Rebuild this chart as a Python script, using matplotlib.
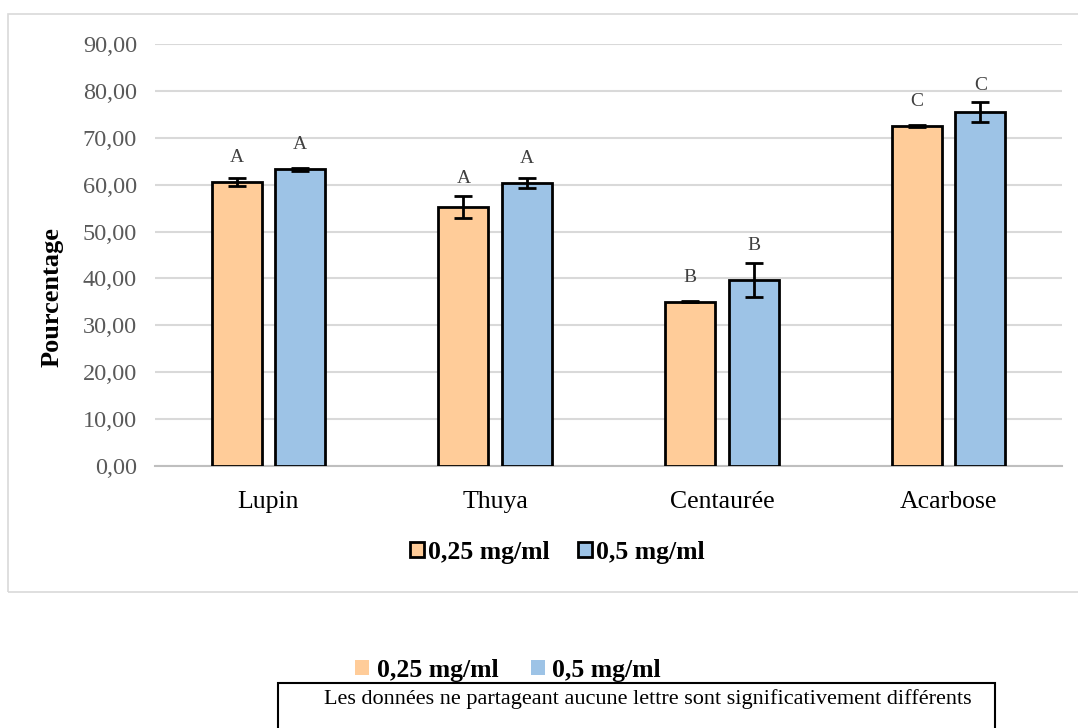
import numpy as np
import matplotlib
matplotlib.use("Agg")
import matplotlib.pyplot as plt
from matplotlib.patches import Patch, Rectangle

plt.rcParams['font.family'] = ['Liberation Serif', 'DejaVu Serif']

categories = ["Lupin", "Thuya", "Centaurée", "Acarbose"]
series_names = ["0,25 mg/ml", "0,5 mg/ml"]
vals_025 = [60.6, 55.2, 35.0, 72.5]
vals_05 = [63.3, 60.4, 39.7, 75.5]
err_025 = [0.8, 2.4, 0.1, 0.2]
err_05 = [0.3, 1.1, 3.7, 2.1]
letters_025 = ["A", "A", "B", "C"]
letters_05 = ["A", "A", "B", "C"]
yticks = np.arange(0, 100, 10)
note = "Les données ne partageant aucune lettre sont significativement différents"

c_orange = "#FFCC99"
c_blue = "#9DC3E6"

W, H = 1078, 728
fig = plt.figure(figsize=(W / 100, H / 100), dpi=100)

# outer chart frame
fig.patches.append(Rectangle((8 / W, 1 - 592 / H), 1.2, 578 / H, transform=fig.transFigure,
                             fill=False, edgecolor="#d9d9d9", linewidth=1.2))

ax = fig.add_axes([155 / W, 1 - 466 / H, 907 / W, 422 / H])

x = np.arange(len(categories))
bw = 0.22
gap = 0.06
pos1 = x - (bw + gap) / 2
pos2 = x + (bw + gap) / 2

ekw = dict(elinewidth=2, capthick=2, ecolor="black")
ax.bar(pos1, vals_025, bw, color=c_orange, edgecolor="black", linewidth=2,
       yerr=err_025, capsize=6.5, error_kw=ekw, zorder=3, label=series_names[0])
ax.bar(pos2, vals_05, bw, color=c_blue, edgecolor="black", linewidth=2,
       yerr=err_05, capsize=6.5, error_kw=ekw, zorder=3, label=series_names[1])

for xs, vs, es, ls in [(pos1, vals_025, err_025, letters_025), (pos2, vals_05, err_05, letters_05)]:
    for xi, v, e, l in zip(xs, vs, es, ls):
        ly = max(v + 3.4, v + e + 1.8)
        ax.text(xi, ly, l, ha="center", va="bottom", fontsize=14, color="#404040", zorder=4)

ax.set_xlim(-0.5, len(categories) - 0.5)
ax.set_ylim(0, 90)
ax.set_yticks(yticks)
ax.set_yticklabels([f"{t:.2f}".replace(".", ",") for t in yticks])
ax.set_xticks(x)
ax.set_xticklabels(categories)
ax.tick_params(axis="y", length=0, pad=13, labelsize=17.5, labelcolor="#595959")
ax.tick_params(axis="x", length=0, pad=18, labelsize=18.5, labelcolor="black")
ax.grid(axis="y", color="#d9d9d9", linewidth=1.5, zorder=0)
for s in ["top", "right", "left"]:
    ax.spines[s].set_visible(False)
ax.spines["bottom"].set_color("#bfbfbf")
ax.spines["bottom"].set_linewidth(1.5)

ax.set_ylabel("Pourcentage", fontsize=19, fontweight="bold", va="center")
ax.yaxis.set_label_coords((52 - 155) / 907, (466 - 297) / 422)

# legend inside the chart frame
handles = [Patch(facecolor=c_orange, edgecolor="black", linewidth=2),
           Patch(facecolor=c_blue, edgecolor="black", linewidth=2)]
fig.legend(handles, series_names, loc="center", bbox_to_anchor=(557 / W, 1 - 552 / H),
           ncol=2, frameon=False, prop=dict(size=18.5, weight="bold"),
           handlelength=0.55, handleheight=0.55, handletextpad=0.15, columnspacing=1.1)

# note box below the chart
fig.patches.append(Rectangle((278 / W, -0.05), (995 - 278) / W, 0.05 + (728 - 683) / H,
                             transform=fig.transFigure, fill=False, edgecolor="black", linewidth=1.5))
fig.text(648 / W, 1 - 699 / H, note, ha="center", va="center", fontsize=16)

handles2 = [Patch(facecolor=c_orange, edgecolor="none"), Patch(facecolor=c_blue, edgecolor="none")]
fig.legend(handles2, series_names, loc="center", bbox_to_anchor=(508 / W, 1 - 670 / H),
           ncol=2, frameon=False, prop=dict(size=18.5, weight="bold"),
           handlelength=0.55, handleheight=0.55, handletextpad=0.3, columnspacing=1.25)

fig.savefig("out.png", dpi=100)
